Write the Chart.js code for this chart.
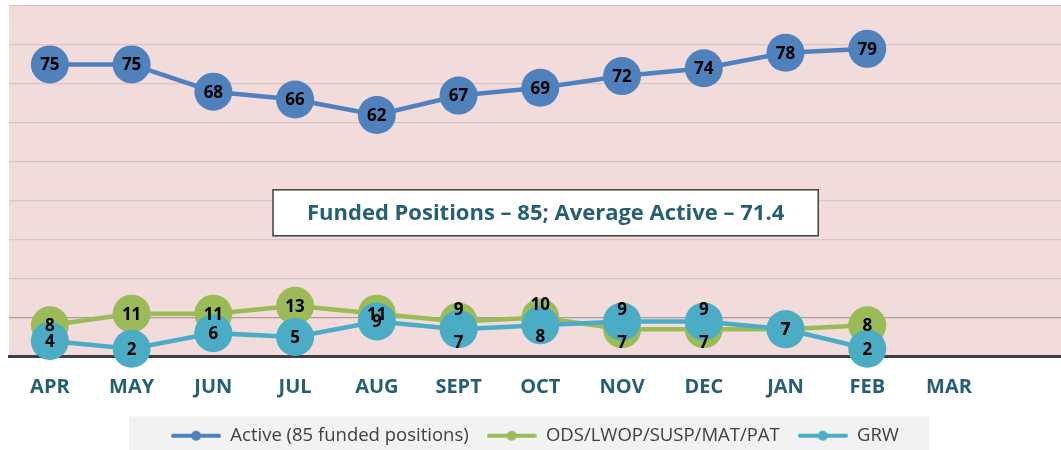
<!DOCTYPE html>
<html><head><meta charset="utf-8">
<script src="https://cdn.jsdelivr.net/npm/chart.js@4.4.1/dist/chart.umd.min.js"></script>
<style>html,body{margin:0;padding:0;background:#fff;overflow:hidden}</style>
</head><body>
<canvas id="c" width="1061" height="450"></canvas>
<script>
const months = ['APR','MAY','JUN','JUL','AUG','SEPT','OCT','NOV','DEC','JAN','FEB','MAR'];
const active = [75,75,68,66,62,67,69,72,74,78,79,null];
const ods = [8,11,11,13,11,9,10,7,7,7,8,null];
const grw = [4,2,6,5,9,7,8,9,9,7,2,null];
const seriesNames = ['Active (85 funded positions)','ODS/LWOP/SUSP/MAT/PAT','GRW'];
const yTicks = [0,10,20,30,40,50,60,70,80,90];
const noteText = 'Funded Positions \u2013 85; Average Active \u2013 71.4';

const COLORS = ['#4F81BD','#9BBB59','#4BACC6'];
const TEAL = '#265F73';

function legendIcon(color){
  const c = document.createElement('canvas');
  c.width = 50; c.height = 14;
  const g = c.getContext('2d');
  g.strokeStyle = color; g.lineWidth = 4; g.lineCap='round';
  g.beginPath(); g.moveTo(2,7); g.lineTo(48,7); g.stroke();
  g.fillStyle = color; g.beginPath(); g.arc(25,7,5,0,Math.PI*2); g.fill();
  return c;
}
const toPts = arr => arr.map((v,i)=>({x:i,y:v}));

const bgPlugin = {
  id:'bg',
  beforeDraw(chart){
    const {ctx, chartArea:a} = chart;
    ctx.save();
    ctx.fillStyle = '#F2DCDB';
    ctx.fillRect(a.left, a.top, a.right-a.left, a.bottom-a.top);
    const lg = chart.legend;
    if (lg && lg.legendHitBoxes && lg.legendHitBoxes.length){
      const hb = lg.legendHitBoxes;
      const l = Math.min(...hb.map(h=>h.left)) - 42;
      const r = Math.max(...hb.map(h=>h.left+h.width)) + 30;
      const t = a.bottom + 60;
      ctx.fillStyle = '#F2F2F2';
      ctx.fillRect(l, t, r-l, chart.height-t);
    }
    ctx.restore();
  }
};

const labelPlugin = {
  id:'ptLabels',
  afterDatasetsDraw(chart, args, opts){
    const ctx = chart.ctx;
    ctx.save();
    ctx.font = 'bold 17px "Open Sans"';
    ctx.fillStyle = '#000';
    ctx.textAlign = 'center';
    ctx.textBaseline = 'middle';
    [2,1,0].forEach(di=>{
      const meta = chart.getDatasetMeta(di);
      const ds = chart.data.datasets[di];
      const shift = (opts.shift && opts.shift[di]) || [];
      meta.data.forEach((pt,i)=>{
        const v = ds.data[i].y;
        if (v === null || v === undefined) return;
        ctx.fillText(String(v), pt.x, pt.y + 1 + (shift[i]||0));
      });
    });
    ctx.restore();
  }
};

const notePlugin = {
  id:'note',
  afterDraw(chart, args, opts){
    const {ctx, scales:{x,y}} = chart;
    const l = x.getPixelForValue(opts.x0), r = x.getPixelForValue(opts.x1);
    const t = y.getPixelForValue(opts.y1), b = y.getPixelForValue(opts.y0);
    ctx.save();
    ctx.fillStyle = '#fff';
    ctx.fillRect(l,t,r-l,b-t);
    ctx.strokeStyle = '#404040'; ctx.lineWidth = 1.5;
    ctx.strokeRect(l,t,r-l,b-t);
    ctx.fillStyle = TEAL;
    ctx.font = 'bold 22px "Open Sans"';
    ctx.textAlign = 'center'; ctx.textBaseline = 'middle';
    ctx.fillText(noteText, (l+r)/2, (t+b)/2+1);
    ctx.restore();
  }
};

const common = {borderWidth:4.5, pointRadius:19, pointHoverRadius:19, pointBorderWidth:0, clip:false, spanGaps:false};

new Chart(document.getElementById('c'), {
  type:'line',
  data:{
    datasets:[
      Object.assign({label:seriesNames[0], data:toPts(active), borderColor:COLORS[0], backgroundColor:COLORS[0], pointBackgroundColor:COLORS[0], order:0}, common),
      Object.assign({label:seriesNames[1], data:toPts(ods), borderColor:COLORS[1], backgroundColor:COLORS[1], pointBackgroundColor:COLORS[1], order:2}, common),
      Object.assign({label:seriesNames[2], data:toPts(grw), borderColor:COLORS[2], backgroundColor:COLORS[2], pointBackgroundColor:COLORS[2], order:1}, common)
    ]
  },
  options:{
    responsive:false, animation:false, events:[],
    layout:{autoPadding:false, padding:{left:9, top:6, right:0, bottom:-5}},
    scales:{
      x:{
        type:'linear', min:-0.5, max:12.37,
        afterBuildTicks(ax){ ax.ticks = months.map((m,i)=>({value:i})); },
        afterFit(ax){ ax.height = 52; ax.paddingLeft = 0; ax.paddingRight = 0; },
        grid:{display:false, drawTicks:false},
        border:{display:true, color:'#3F3F3F', width:3},
        ticks:{autoSkip:false, maxRotation:0, padding:19, color:TEAL,
          font:{family:'"Open Sans"', size:20, weight:'bold'},
          callback:(v)=>months[v] ?? ''}
      },
      y:{
        min:0, max:90,
        afterBuildTicks(ax){ ax.ticks = yTicks.map(v=>({value:v})); },
        afterFit(ax){ ax.width = 0; ax.paddingTop = 0; ax.paddingBottom = 0; },
        ticks:{display:false},
        border:{display:false},
        grid:{drawTicks:false, lineWidth:1.2,
          color:(c)=> c.tick && c.tick.value===10 ? '#A89E9E' : '#D8C4C4'}
      }
    },
    plugins:{
      tooltip:{enabled:false},
      legend:{
        position:'bottom',
        labels:{
          usePointStyle:true, pointStyleWidth:50, boxHeight:14,
          padding:18, color:'#404040',
          font:{family:'"Open Sans"', size:18.5},
          sort:(a,b)=>a.datasetIndex-b.datasetIndex,
          generateLabels(chart){
            return chart.data.datasets.map((ds,i)=>({
              text:ds.label, datasetIndex:i, pointStyle:legendIcon(ds.borderColor),
              fillStyle:ds.borderColor, strokeStyle:ds.borderColor, lineWidth:0, hidden:false, fontColor:'#404040'
            }));
          }
        }
      },
      ptLabels:{shift:{1:[0,0,0,0,0,-12,-13,13,13,0,0,0], 2:[0,0,0,0,0,13,11,-12,-12,0,0,0]}},
      note:{x0:2.73, x1:9.40, y0:31.0, y1:42.8}
    }
  },
  plugins:[bgPlugin, labelPlugin, notePlugin]
});
</script>
</body></html>
